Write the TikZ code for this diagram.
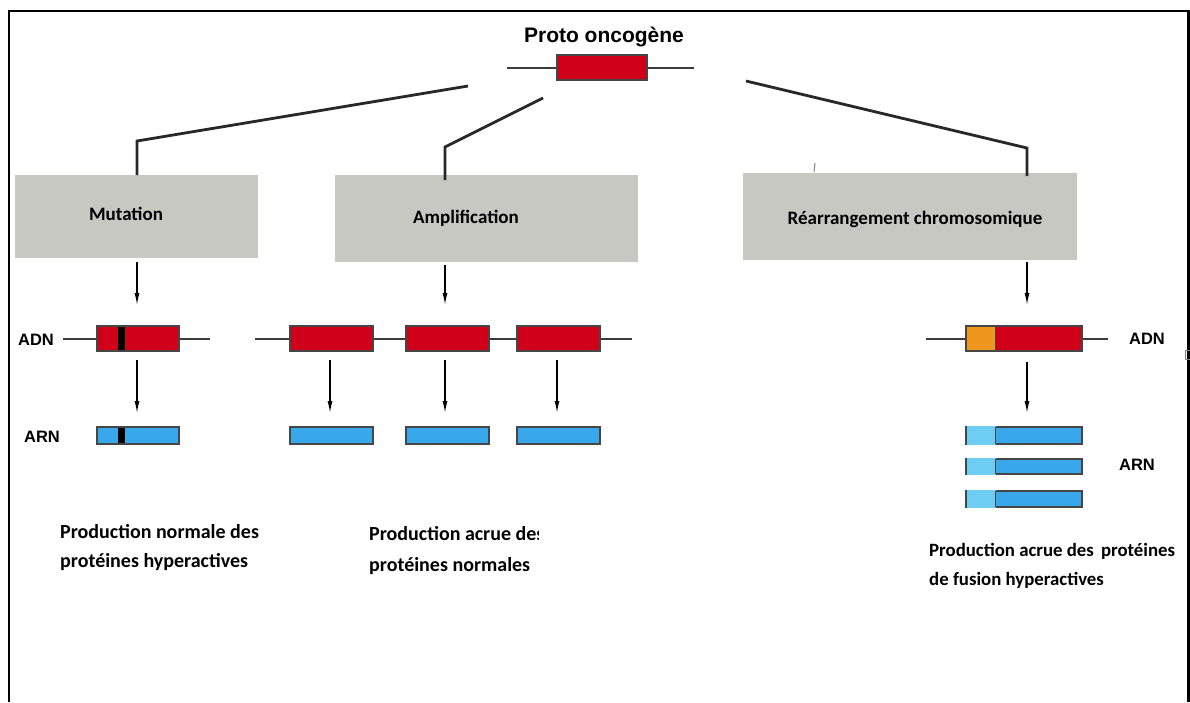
\documentclass[tikz,border=0pt]{standalone}
\usepackage{fontspec}
\setmainfont{Carlito}
\newfontfamily\arialfont{Liberation Sans}
\usetikzlibrary{arrows.meta}

\definecolor{genered}{RGB}{208,0,27}
\definecolor{generna}{RGB}{56,168,234}
\definecolor{rnalight}{RGB}{110,205,242}
\definecolor{geneorange}{RGB}{238,150,30}
\definecolor{boxgray}{RGB}{200,200,195}
\definecolor{strand}{RGB}{60,60,60}
\definecolor{edge}{RGB}{70,70,70}

\tikzset{
  frameline/.style={line width=2.4pt, black},
  conn/.style={line width=2.8pt, draw={rgb,255:red,40;green,40;blue,40}, line join=miter},
  arr/.style={line width=1.3pt, black, -{Latex[length=12pt,width=5pt]}},
  dnaline/.style={line width=2.8pt, strand},
  dnabox/.style={draw=edge, line width=1.2pt, fill=genered, inner sep=0pt, outer sep=0pt, minimum height=25pt},
  rnabox/.style={draw=edge, line width=1.2pt, fill=generna, inner sep=0pt, outer sep=0pt, minimum height=17pt},
  stepbox/.style={fill=boxgray, inner sep=0pt, outer sep=0pt},
  steplabel/.style={font=\fontsize{19}{23}\selectfont\bfseries, inner sep=0pt},
  tag/.style={font=\arialfont\fontsize{16.5}{20}\selectfont\bfseries, inner sep=0pt},
  prod/.style={font=\fontsize{20}{24}\selectfont\bfseries, inner sep=0pt, anchor=base west},
}

\begin{document}
\begin{tikzpicture}[x=1pt,y=-1pt]
\useasboundingbox (0,0) rectangle (1190,702);
\fill[white] (0,0) rectangle (1190,702);

% outer frame (open at the bottom)
\draw[frameline] (9,702) -- (9,11) -- (1188.5,11) -- (1188.5,702);

% proto-oncogene
\node[font=\arialfont\fontsize{21}{25}\selectfont\bfseries, inner sep=0pt, anchor=base] (title) at (604,42) {Proto oncogène};
\draw[dnaline] (507,68) -- (694,68);
\node[dnabox, minimum width=90pt] (top) at (602,67.5) {};

% the three mechanisms
\node[stepbox, minimum width=243pt, minimum height=83pt] (bmut) at (136.5,216.5) {};
\node[steplabel] (lmut) at (126,214) {Mutation};
\node[stepbox, minimum width=303pt, minimum height=87pt] (bamp) at (486.5,218.5) {};
\node[steplabel] (lamp) at (466,218) {Amplification};
\node[stepbox, minimum width=334pt, minimum height=87pt] (brea) at (910,216.5) {};
\node[steplabel] (lrea) at (915,219) {Réarrangement chromosomique};

% branches from the proto-oncogene
\coordinate (c1) at (468,86);
\coordinate (k1) at (137,141);
\coordinate (c2) at (543,98);
\coordinate (k2) at (445,147);
\coordinate (c3) at (746,81);
\coordinate (k3) at (1027,148);
\draw[conn] (c1) -- (k1) -- (k1 |- bmut.north);
\draw[conn] (c2) -- (k2) -- ([yshift=-5pt]k2 |- bamp.north);
\draw[conn] (c3) -- (k3) -- ([yshift=-3pt]k3 |- brea.north);
\draw[line width=1pt, gray] (815,163) -- (814,172);

% mutation: DNA and RNA
\draw[dnaline] (63,339) -- (210,339);
\node[dnabox, minimum width=82pt] (d1) at (138,338.5) {};
\fill[black] (118,326.6) rectangle (124.5,350.4);
\node[rnabox, minimum width=82pt] (r1) at (138,435.5) {};
\fill[black] (118,427.6) rectangle (124.5,443.4);
\node[tag] (adn1) at (36,340) {ADN};
\node[tag] (arn1) at (42,437) {ARN};
\draw[arr, shorten <=4pt, shorten >=21pt] ([xshift=-1pt]bmut.south -| d1) -- ([xshift=-1pt]d1.north);
\draw[arr, shorten <=9pt, shorten >=14pt] ([xshift=-1pt]d1.south) -- ([xshift=-1pt]r1.north);

% amplification: three gene copies
\draw[dnaline] (255,339) -- (632,339);
\node[dnabox, minimum width=83pt] (d2) at (331.5,338.5) {};
\node[dnabox, minimum width=83pt] (d3) at (447.5,338.5) {};
\node[dnabox, minimum width=83pt] (d4) at (558.5,338.5) {};
\node[rnabox, minimum width=83pt] (r2) at (331.5,435.5) {};
\node[rnabox, minimum width=83pt] (r3) at (447.5,435.5) {};
\node[rnabox, minimum width=83pt] (r4) at (558.5,435.5) {};
\draw[arr, shorten <=3pt, shorten >=21pt] ([xshift=-2.5pt]bamp.south -| d3) -- ([xshift=-2.5pt]d3.north);
\draw[arr, shorten <=9pt, shorten >=14pt] ([xshift=-1.5pt]d2.south) -- ([xshift=-1.5pt]r2.north);
\draw[arr, shorten <=9pt, shorten >=14pt] ([xshift=-2.5pt]d3.south) -- ([xshift=-2.5pt]r3.north);
\draw[arr, shorten <=9pt, shorten >=14pt] ([xshift=-1.5pt]d4.south) -- ([xshift=-1.5pt]r4.north);

% rearrangement: fusion gene
\draw[dnaline] (926,339) -- (1108,339);
\node[dnabox, minimum width=116pt] (d5) at (1024,338.5) {};
\fill[geneorange] (966.6,326.6) rectangle (995.5,350.4);
\draw[edge, line width=1.2pt] (995.5,326) -- (995.5,351);
\node[rnabox, minimum width=116pt] (r5) at (1024,435.5) {};
\node[rnabox, minimum width=116pt, minimum height=15pt] (r6) at (1024,466.5) {};
\node[rnabox, minimum width=116pt, minimum height=16pt] (r7) at (1024,499) {};
\foreach \r in {r5,r6,r7}{
  \fill[rnalight] ([shift={(0.6pt,-0.6pt)}]\r.south west) rectangle ([xshift=29.5pt,yshift=0.6pt]\r.north west);
  \draw[edge, line width=1.2pt] ([xshift=29.5pt]\r.south west) -- ([xshift=29.5pt]\r.north west);
}
\node[tag] (adn5) at (1147,339) {ADN};
\node[tag] (arn5) at (1137,465) {ARN};
\draw[arr, shorten <=2pt, shorten >=21pt] ([xshift=3pt]brea.south -| d5) -- ([xshift=3pt]d5.north);
\draw[arr, shorten <=11pt, shorten >=14pt] ([xshift=3pt]d5.south) -- ([xshift=3pt]r5.north);
\draw[gray, line width=0.8pt] (1185,350) rectangle (1190,359);

% outcomes
\node[prod] (p1a) at (60,538) {Production normale des};
\node[prod] (p1b) at (60,567) {protéines hyperactives};
\begin{scope}
  \clip (340,500) rectangle (538.5,600);
  \node[prod] (p2a) at (369,540) {Production acrue des};
\end{scope}
\node[prod] (p2b) at (369,571) {protéines normales};
\node[prod, font=\fontsize{18.8}{23}\selectfont\bfseries] (p3a) at (929,556) {Production acrue des\hspace{0.15em} protéines};
\node[prod, font=\fontsize{18.8}{23}\selectfont\bfseries] (p3b) at (929,585) {de fusion hyperactives};
\end{tikzpicture}
\end{document}
